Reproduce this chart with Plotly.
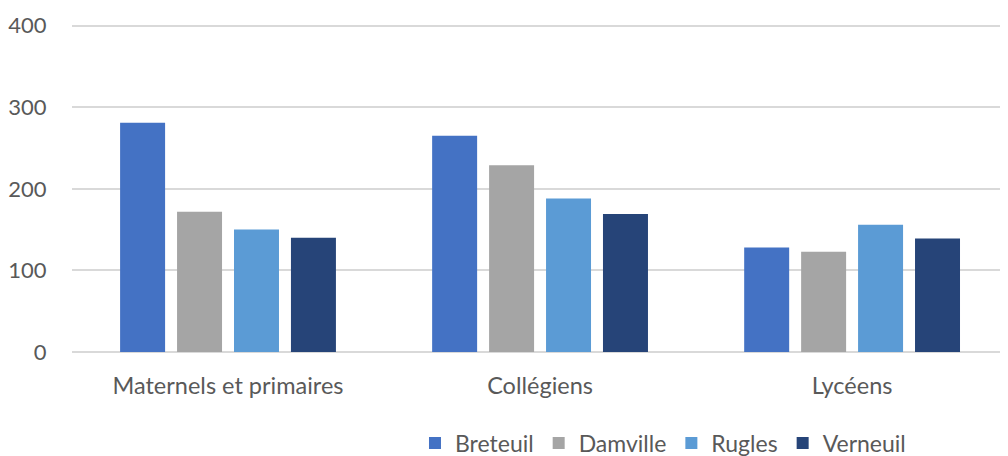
import plotly.graph_objects as go

categories = ["Maternels et primaires", "Collégiens", "Lycéens"]
breteuil = [281, 265, 128]
damville = [172, 229, 123]
rugles = [150, 188, 156]
verneuil = [140, 169, 139]
series_names = ["Breteuil", "Damville", "Rugles", "Verneuil"]
colors = ["#4472C4", "#A5A5A5", "#5B9BD5", "#264478"]

fig = go.Figure()
for name, vals, col in zip(series_names, [breteuil, damville, rugles, verneuil], colors):
    fig.add_trace(go.Bar(name=name, x=categories, y=vals, marker=dict(color=col, line=dict(width=0))))

font_family = "Lato, Open Sans, sans-serif"
fs_tick = 22
fs_text = 23.5
fs_legend = 23
fig.update_layout(
    width=992, height=448,
    margin=dict(l=64, r=0, t=16, b=104, autoexpand=False),
    paper_bgcolor="white", plot_bgcolor="white",
    barmode="group", bargap=0.27, bargroupgap=0.21,
    font=dict(family=font_family, size=fs_text, color="#595959"),
    xaxis=dict(showgrid=False, showline=False, ticks="outside", ticklen=13, tickcolor="rgba(0,0,0,0)",
               range=[-0.5, 2.474], tickfont=dict(size=fs_text, color="#595959")),
    yaxis=dict(range=[0, 402], dtick=100, showgrid=True, gridcolor="#D9D9D9", gridwidth=1.5,
               zeroline=True, zerolinecolor="#D9D9D9", zerolinewidth=1.5,
               showline=False, ticks="outside", ticklen=20, tickcolor="rgba(0,0,0,0)",
               tickfont=dict(size=fs_tick, color="#595959")),
    legend=dict(orientation="h", x=0.3696, xanchor="left", y=-0.2774, yanchor="middle",
                font=dict(size=fs_legend, color="#595959"), itemwidth=30, traceorder="normal"),
    showlegend=True,
)
fig.write_html("out.html")
